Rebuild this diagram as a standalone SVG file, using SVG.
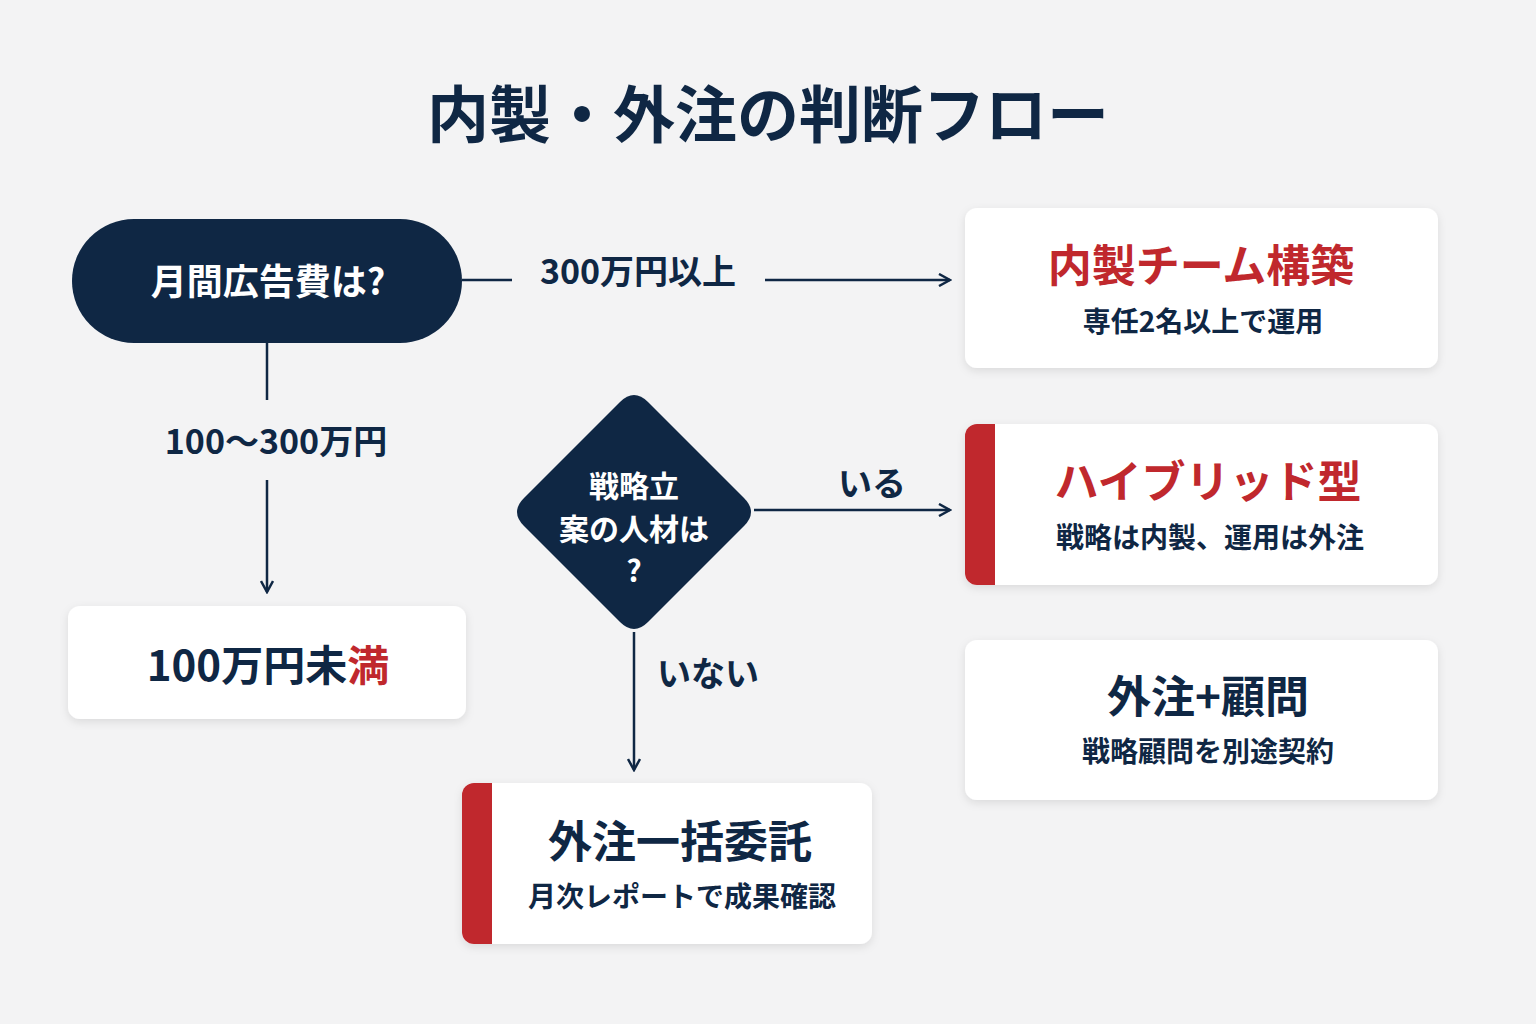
<svg xmlns="http://www.w3.org/2000/svg" width="1536" height="1024" viewBox="0 0 1536 1024">
<defs>
<filter id="sh" x="-10%" y="-10%" width="120%" height="130%"><feDropShadow dx="0" dy="3" stdDeviation="4" flood-color="#000" flood-opacity="0.10"/></filter>
<marker id="ar" markerWidth="14" markerHeight="14" refX="12" refY="7" orient="auto" markerUnits="userSpaceOnUse"><path d="M1,1 L12,7 L1,13" fill="none" stroke="#0f2744" stroke-width="2.5"/></marker>
<clipPath id="c2"><rect x="965" y="424" width="473" height="161" rx="12"/></clipPath>
<clipPath id="c4"><rect x="462" y="783" width="410" height="161" rx="12"/></clipPath>
</defs>
<style>
text{font-family:"Noto Sans CJK JP","Noto Sans",sans-serif;font-weight:700;text-anchor:middle;fill:#0f2744}
.card{fill:#fff;filter:url(#sh)}
.ln{stroke:#0f2744;stroke-width:2.5;fill:none}
.red{fill:#c0282d}
.lab{font-size:34px}
.t{font-size:44px}
.s{font-size:28px}
</style>
<rect width="1536" height="1024" fill="#f3f3f4"/>
<text x="768" y="138" font-size="62">内製・外注の判断フロー</text>
<g id="connectors">
<line class="ln" x1="462" y1="280" x2="512" y2="280"/>
<line class="ln" x1="765" y1="280" x2="950" y2="280" marker-end="url(#ar)"/>
<line class="ln" x1="267" y1="343" x2="267" y2="400"/>
<line class="ln" x1="267" y1="480" x2="267" y2="592" marker-end="url(#ar)"/>
<line class="ln" x1="754" y1="510" x2="950" y2="510" marker-end="url(#ar)"/>
<line class="ln" x1="634" y1="632" x2="634" y2="770" marker-end="url(#ar)"/>
<text class="lab" x="638" y="284">300万円以上</text>
<text class="lab" x="276" y="454">100〜300万円</text>
<text class="lab" x="872" y="496">いる</text>
<text class="lab" x="708" y="686">いない</text>
</g>
<g id="start">
<rect x="72" y="219" width="390" height="124" rx="62" fill="#0f2744"/>
<text x="268" y="295" font-size="36" style="fill:#fff">月間広告費は?</text>
</g>
<g id="inhouse">
<rect class="card" x="965" y="208" width="473" height="160" rx="12"/>
<text class="t red" x="1201" y="282">内製チーム構築</text>
<text class="s" x="1203" y="332">専任2名以上で運用</text>
</g>
<g id="under100">
<rect class="card" x="68" y="606" width="398" height="113" rx="12"/>
<text x="268" y="681" font-size="42">100万円未<tspan class="red">満</tspan></text>
</g>
<g id="decision">
<path d="M620,402 Q634,388 648,402 L744,498 Q758,512 744,526 L648,622 Q634,636 620,622 L524,526 Q510,512 524,498 Z" fill="#0f2744"/>
<text x="634" y="497" font-size="30" style="fill:#fff">戦略立</text>
<text x="634" y="540" font-size="30" style="fill:#fff">案の人材は</text>
<text x="634" y="582" font-size="30" style="fill:#fff">?</text>
</g>
<g id="hybrid">
<rect class="card" x="965" y="424" width="473" height="161" rx="12"/>
<rect x="965" y="424" width="30" height="161" class="red" clip-path="url(#c2)"/>
<text class="t red" x="1208" y="498">ハイブリッド型</text>
<text class="s" x="1210" y="548">戦略は内製、運用は外注</text>
</g>
<g id="advisor">
<rect class="card" x="965" y="640" width="473" height="160" rx="12"/>
<text class="t" x="1208" y="713">外注+顧問</text>
<text class="s" x="1208" y="762">戦略顧問を別途契約</text>
</g>
<g id="outsource">
<rect class="card" x="462" y="783" width="410" height="161" rx="12"/>
<rect x="462" y="783" width="30" height="161" class="red" clip-path="url(#c4)"/>
<text class="t" x="680" y="858">外注一括委託</text>
<text class="s" x="682" y="907">月次レポートで成果確認</text>
</g>
</svg>
